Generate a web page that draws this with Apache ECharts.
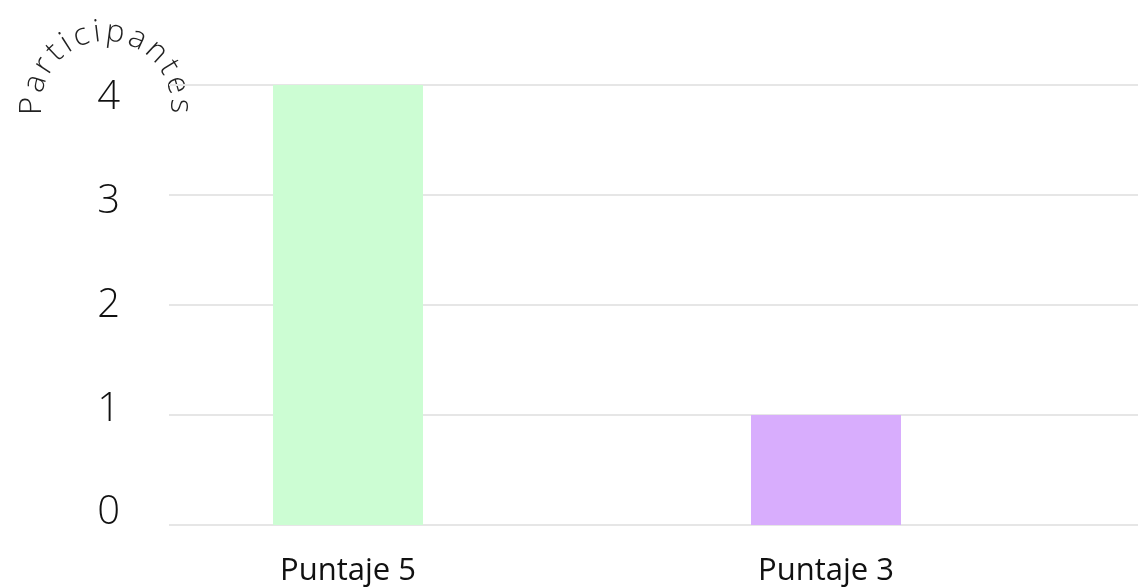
<!DOCTYPE html>
<html><head><meta charset="utf-8">
<script src="https://cdn.jsdelivr.net/npm/echarts@6/dist/echarts.min.js"></script>
<style>html,body{margin:0;padding:0;background:#fff}#c{width:1138px;height:588px}</style>
</head><body><div id="c"></div>
<script>
const categories = ['Puntaje 5', 'Puntaje 3'];
const participantes = [4, 1];
const barColors = ['#ccfdd3', '#d8adfd'];
const yTickLabels = ['0', '1', '2', '3', '4'];
const axisTitle = 'Participantes';

const chart = echarts.init(document.getElementById('c'), null, {renderer: 'canvas'});

// curved axis title
const arcFontSize = 31, arcWeight = 300, arcFamily = '"Open Sans"';
const ctx = document.createElement('canvas').getContext('2d');
ctx.font = arcWeight + ' ' + arcFontSize + 'px ' + arcFamily;
const letters = axisTitle.split('');
const widths = letters.map(ch => ctx.measureText(ch).width);
const cx = 106, cy = 106, r = 74;
const n = letters.length;
const inner = widths.reduce((a, b) => a + b, 0) - (widths[0] + widths[n - 1]) / 2;
const gap = (Math.PI * r - inner) / (n - 1);
let s = 0;
const arcEls = letters.map((ch, i) => {
  if (i > 0) s += widths[i - 1] / 2 + gap + widths[i] / 2;
  const th = Math.PI - s / r;
  return {
    type: 'text',
    x: cx + r * Math.cos(th),
    y: cy - r * Math.sin(th),
    rotation: th - Math.PI / 2,
    style: {
      text: ch, fill: '#222', fontSize: arcFontSize, fontWeight: arcWeight,
      fontFamily: arcFamily, align: 'center', verticalAlign: 'middle'
    }
  };
});

chart.setOption({
  backgroundColor: '#fff',
  animation: false,
  grid: [
    {left: 169, right: 0, top: 85, bottom: 63},   // gridlines
    {left: 109, right: 73, top: 85, bottom: 63},  // bars
    {left: 169, right: 0, top: 98, bottom: 75}    // y labels
  ],
  xAxis: [
    {gridIndex: 0, type: 'value', show: false},
    {gridIndex: 1, type: 'category', data: categories,
     axisLine: {show: false}, axisTick: {show: false},
     axisLabel: {color: '#111', fontSize: 31, fontFamily: '"Open Sans"', margin: 31}},
    {gridIndex: 2, type: 'value', show: false}
  ],
  yAxis: [
    {gridIndex: 0, type: 'value', min: 0, max: 4, interval: 1,
     axisLabel: {show: false}, axisLine: {show: false}, axisTick: {show: false},
     splitLine: {show: true, lineStyle: {color: '#e6e6e6', width: 2}}},
    {gridIndex: 1, type: 'value', min: 0, max: 4, interval: 1, show: false},
    {gridIndex: 2, type: 'category', data: yTickLabels, boundaryGap: false,
     axisLine: {show: false}, axisTick: {show: false}, splitLine: {show: false},
     axisLabel: {color: '#111', fontSize: 40, fontWeight: 300, fontFamily: '"Open Sans"', margin: 49}}
  ],
  series: [{
    type: 'bar', xAxisIndex: 1, yAxisIndex: 1, barWidth: 150,
    data: participantes.map((v, i) => ({value: v, itemStyle: {color: barColors[i]}}))
  }],
  graphic: arcEls
});
</script>
</body></html>
